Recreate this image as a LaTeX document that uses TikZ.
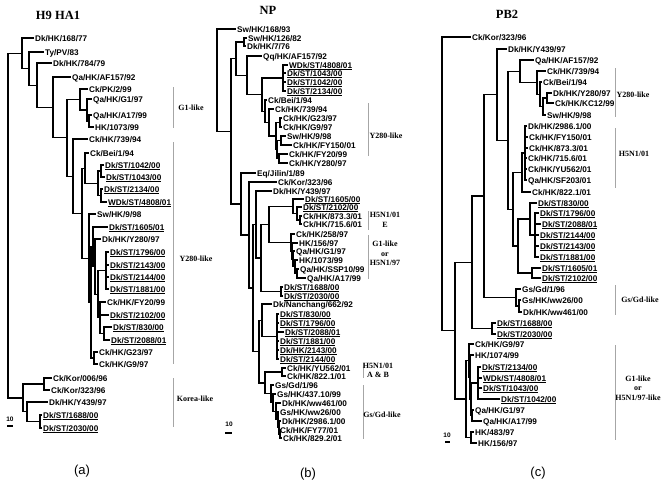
\documentclass[tikz,border=0pt]{standalone}
\usepackage{fontspec}
\setmainfont{Liberation Serif}
\setsansfont{Liberation Sans}
\usepackage{tikz}

\begin{document}
\begin{tikzpicture}[x=1pt,y=-1pt,
  leaf/.style={anchor=west,inner sep=1pt,text height=6pt,text depth=0pt,font=\sffamily\bfseries\fontsize{8.2}{9}\selectfont},
  br/.style={line width=1.2pt},
  bar/.style={draw=gray!70,line width=0.9pt},
  grp/.style={align=center,inner sep=0pt,font=\rmfamily\bfseries\fontsize{8}{9.5}\selectfont},
  ttl/.style={inner sep=0pt,font=\rmfamily\bfseries\fontsize{12.5}{14}\selectfont},
  pnl/.style={inner sep=0pt,font=\sffamily\fontsize{13}{15}\selectfont},
  scl/.style={inner sep=0pt,font=\sffamily\bfseries\fontsize{6.5}{7}\selectfont}]
\useasboundingbox (0,0) rectangle (670,483);

\node[ttl] (ta) at (58,15) {H9 HA1};
\node[ttl] (tb) at (268,10) {NP};
\node[ttl] (tc) at (507,14) {PB2};

\node[leaf] (a01) at (34,38) {Dk/HK/168/77};
\node[leaf] (a02) at (44,52) {Ty/PV/83};
\node[leaf] (a03) at (52,63) {Dk/HK/784/79};
\node[leaf] (a04) at (71,77) {Qa/HK/AF157/92};
\node[leaf] (a05) at (88,89) {Ck/PK/2/99};
\node[leaf] (a06) at (92,99) {Qa/HK/G1/97};
\node[leaf] (a07) at (92,115) {Qa/HK/A17/99};
\node[leaf] (a08) at (94,127) {HK/1073/99};
\node[leaf] (a09) at (88,139) {Ck/HK/739/94};
\node[leaf] (a10) at (89,153) {Ck/Bei/1/94};
\node[leaf] (a11) at (104,165) {\underline{Dk/ST/1042/00}};
\node[leaf] (a12) at (105,177) {\underline{Dk/ST/1043/00}};
\node[leaf] (a13) at (103,189) {\underline{Dk/ST/2134/00}};
\node[leaf] (a14) at (107,202) {\underline{WDk/ST/4808/01}};
\node[leaf] (a15) at (96,214) {Sw/HK/9/98};
\node[leaf] (a16) at (108,227) {\underline{Dk/ST/1605/01}};
\node[leaf] (a17) at (101,239) {Dk/HK/Y280/97};
\node[leaf] (a18) at (109,252) {\underline{Dk/ST/1796/00}};
\node[leaf] (a19) at (109,265) {\underline{Dk/ST/2143/00}};
\node[leaf] (a20) at (109,277) {\underline{Dk/ST/2144/00}};
\node[leaf] (a21) at (109,289) {\underline{Dk/ST/1881/00}};
\node[leaf] (a22) at (106,302) {Ck/HK/FY20/99};
\node[leaf] (a23) at (109,315) {\underline{Dk/ST/2102/00}};
\node[leaf] (a24) at (112,327) {\underline{Dk/ST/830/00}};
\node[leaf] (a25) at (110,340) {\underline{Dk/ST/2088/01}};
\node[leaf] (a26) at (98,352) {Ck/HK/G23/97};
\node[leaf] (a27) at (98,364) {Ck/HK/G9/97};
\node[leaf] (a28) at (52,378) {Ck/Kor/006/96};
\node[leaf] (a29) at (50,390) {Ck/Kor/323/96};
\node[leaf] (a30) at (48,402) {Dk/HK/Y439/97};
\node[leaf] (a31) at (42,415) {\underline{Dk/ST/1688/00}};
\node[leaf] (a32) at (42,428) {\underline{Dk/ST/2030/00}};

\coordinate (ar) at (8,225.6);
\coordinate (aa) at (22,53.3);
\coordinate (ab) at (29,68.6);
\coordinate (ac) at (37,85.2);
\coordinate (ae1) at (53,107.4);
\coordinate (ae2) at (67,137.8);
\coordinate (ag) at (80,99.5);
\coordinate (ah) at (87,110);
\coordinate (ai) at (89,121);
\coordinate (ae3) at (73,176.1);
\coordinate (ae4) at (82,213.2);
\coordinate (aj) at (85,168.1);
\coordinate (aj2) at (98,183.3);
\coordinate (aj3) at (101,171);
\coordinate (aj4) at (101,195.5);
\coordinate (ay) at (89,258.2);
\coordinate (ay2) at (91,302.4);
\coordinate (ay3) at (93,246.8);
\coordinate (ay4) at (95,266.6);
\coordinate (ay5) at (98,294.1);
\coordinate (ay6) at (106,270.5);
\coordinate (ay7) at (100,317.8);
\coordinate (ay8) at (104,333.5);
\coordinate (ay9) at (94,358);
\coordinate (ak) at (23,397.9);
\coordinate (ak1) at (44,384);
\coordinate (ak2) at (27,411.8);
\coordinate (ak3) at (40,421.5);

\draw[br] (ar) |- (aa) (ar) |- (ak);
\draw[br] (aa) |- (a01) (aa) |- (ab);
\draw[br] (ab) |- (a02) (ab) |- (ac);
\draw[br] (ac) |- (a03) (ac) |- (ae1);
\draw[br] (ae1) |- (a04) (ae1) |- (ae2);
\draw[br] (ae2) |- (ag) (ae2) |- (ae3);
\draw[br] (ag) |- (a05) (ag) |- (ah);
\draw[br] (ah) |- (a06) (ah) |- (ai);
\draw[br] (ai) |- (a07) (ai) |- (a08);
\draw[br] (ae3) |- (a09) (ae3) |- (ae4);
\draw[br] (ae4) |- (aj) (ae4) |- (ay);
\draw[br] (aj) |- (a10) (aj) |- (aj2);
\draw[br] (aj2) |- (aj3) (aj2) |- (aj4);
\draw[br] (aj3) |- (a11) (aj3) |- (a12);
\draw[br] (aj4) |- (a13) (aj4) |- (a14);
\draw[br] (ay) |- (a15) (ay) |- (ay2);
\draw[br] (ay2) |- (ay3) (ay2) |- (ay9);
\draw[br] (ay3) |- (a16) (ay3) |- (ay4);
\draw[br] (ay4) |- (a17) (ay4) |- (ay5);
\draw[br] (ay5) |- (ay6) (ay5) |- (ay7);
\draw[br] (ay6) |- (a18) (ay6) |- (a19) (ay6) |- (a20) (ay6) |- (a21);
\draw[br] (ay7) |- (a22) (ay7) |- (a23) (ay7) |- (ay8);
\draw[br] (ay8) |- (a24) (ay8) |- (a25);
\draw[br] (ay9) |- (a26) (ay9) |- (a27);
\draw[br] (ak) |- (ak1) (ak) |- (ak2);
\draw[br] (ak1) |- (a28) (ak1) |- (a29);
\draw[br] (ak2) |- (a30) (ak2) |- (ak3);
\draw[br] (ak3) |- (a31) (ak3) |- (a32);

\coordinate (aG1t) at (173,87);
\coordinate (aG1b) at (173,128);
\coordinate (aYt) at (173,142);
\coordinate (aYb) at (173,364);
\coordinate (aKt) at (173,378);
\coordinate (aKb) at (173,427);
\draw[bar] (aG1t) -- (aG1b);
\draw[bar] (aYt) -- (aYb);
\draw[bar] (aKt) -- (aKb);
\node[grp] (gaG1) at (191,108) {G1-like};
\node[grp] (gaY) at (196,259) {Y280-like};
\node[grp] (gaK) at (195,399) {Korea-like};

\node[leaf] (b01) at (236,29) {Sw/HK/168/93};
\node[leaf] (b02) at (247,38) {Sw/HK/126/82};
\node[leaf] (b03) at (246,46) {Dk/HK/7/76};
\node[leaf] (b04) at (262,56) {Qq/HK/AF157/92};
\node[leaf] (b05) at (288,65) {\underline{WDk/ST/4808/01}};
\node[leaf] (b06) at (286,73) {\underline{Dk/ST/1043/00}};
\node[leaf] (b07) at (286,82) {\underline{Dk/ST/1042/00}};
\node[leaf] (b08) at (286,91) {\underline{Dk/ST/2134/00}};
\node[leaf] (b09) at (267,100) {Ck/Bei/1/94};
\node[leaf] (b10) at (274,109) {Ck/HK/739/94};
\node[leaf] (b11) at (282,118) {Ck/HK/G23/97};
\node[leaf] (b12) at (282,127) {Ck/HK/G9/97};
\node[leaf] (b13) at (286,136) {Sw/HK/9/98};
\node[leaf] (b14) at (292,145) {Ck/HK/FY150/01};
\node[leaf] (b15) at (288,154) {Ck/HK/FY20/99};
\node[leaf] (b16) at (288,163) {Ck/HK/Y280/97};
\node[leaf] (b17) at (256,173) {Eq/Jilin/1/89};
\node[leaf] (b18) at (277,182) {Ck/Kor/323/96};
\node[leaf] (b19) at (272,191) {Dk/HK/Y439/97};
\node[leaf] (b20) at (304,199) {\underline{Dk/ST/1605/00}};
\node[leaf] (b21) at (302,207) {\underline{Dk/ST/2102/00}};
\node[leaf] (b22) at (302,216) {Ck/HK/873.3/01};
\node[leaf] (b23) at (302,224) {Ck/HK/715.6/01};
\node[leaf] (b24) at (295,234) {Ck/HK/258/97};
\node[leaf] (b25) at (298,243) {HK/156/97};
\node[leaf] (b26) at (295,251) {Qa/HK/G1/97};
\node[leaf] (b27) at (298,260) {HK/1073/99};
\node[leaf] (b28) at (299,269) {Qa/HK/SSP10/99};
\node[leaf] (b29) at (306,278) {Qa/HK/A17/99};
\node[leaf] (b30) at (283,287) {\underline{Dk/ST/1688/00}};
\node[leaf] (b31) at (283,296) {\underline{Dk/ST/2030/00}};
\node[leaf] (b32) at (272,304) {Dk/Nanchang/662/92};
\node[leaf] (b33) at (279,314) {\underline{Dk/ST/830/00}};
\node[leaf] (b34) at (279,323) {\underline{Dk/ST/1796/00}};
\node[leaf] (b35) at (284,332) {\underline{Dk/ST/2088/01}};
\node[leaf] (b36) at (279,341) {\underline{Dk/ST/1881/00}};
\node[leaf] (b37) at (279,350) {\underline{Dk/HK/2143/00}};
\node[leaf] (b38) at (279,359) {\underline{Dk/ST/2144/00}};
\node[leaf] (b39) at (286,368) {Ck/HK/YU562/01};
\node[leaf] (b40) at (286,376) {Ck/HK/822.1/01};
\node[leaf] (b41) at (274,385) {Gs/Gd/1/96};
\node[leaf] (b42) at (276,394) {Gs/HK/437.10/99};
\node[leaf] (b43) at (281,403) {Dk/HK/ww461/00};
\node[leaf] (b44) at (279,412) {Gs/HK/ww26/00};
\node[leaf] (b45) at (281,421) {Dk/HK/2986.1/00};
\node[leaf] (b46) at (279,430) {Ck/HK/FY77/01};
\node[leaf] (b47) at (282,438) {Ck/HK/829.2/01};

\coordinate (br) at (217,80.2);
\coordinate (bn1) at (231,131.4);
\coordinate (bn2) at (236,58.7);
\coordinate (bp1) at (244,42);
\coordinate (bp2) at (247,75.3);
\coordinate (bp3) at (262,94.6);
\coordinate (bp4) at (283,78);
\coordinate (bp5) at (265,111.3);
\coordinate (bp6) at (269,122.5);
\coordinate (bp7) at (276,136);
\coordinate (bp8) at (280,122.5);
\coordinate (bp9) at (277,149.5);
\coordinate (bp10) at (281,140.5);
\coordinate (bp11) at (279,158.5);
\coordinate (bu) at (241,204);
\coordinate (bt) at (249,235);
\coordinate (brr) at (253,288);
\coordinate (br2) at (256,224.5);
\coordinate (br1) at (261,258);
\coordinate (bq) at (269,224.4);
\coordinate (bq1) at (293,206.3);
\coordinate (bq2) at (297,213.5);
\coordinate (bq3) at (300,220);
\coordinate (bq4) at (291,242.5);
\coordinate (bq5) at (292,250.9);
\coordinate (bq6) at (293,258.9);
\coordinate (bq7) at (295,266.8);
\coordinate (bq8) at (297,273.5);
\coordinate (bq9) at (281,291.5);
\coordinate (bs) at (259,351.6);
\coordinate (bs1) at (262,320.3);
\coordinate (bs2) at (277,336.5);
\coordinate (bs3) at (265,382.9);
\coordinate (bs4) at (282,372);
\coordinate (bs5) at (271,393.8);
\coordinate (bs6) at (273,402.7);
\coordinate (bs7) at (276,411.4);
\coordinate (bs8) at (278,419.8);
\coordinate (bs9) at (279,427.5);
\coordinate (bs10) at (280,434);

\draw[br] (br) |- (b01) (br) |- (bn1);
\draw[br] (bn1) |- (bn2) (bn1) |- (bu);
\draw[br] (bn2) |- (bp1) (bn2) |- (bp2);
\draw[br] (bp1) |- (b02) (bp1) |- (b03);
\draw[br] (bp2) |- (b04) (bp2) |- (bp3);
\draw[br] (bp3) |- (bp4) (bp3) |- (bp5);
\draw[br] (bp4) |- (b05) (bp4) |- (b06) (bp4) |- (b07) (bp4) |- (b08);
\draw[br] (bp5) |- (b09) (bp5) |- (bp6);
\draw[br] (bp6) |- (b10) (bp6) |- (bp7);
\draw[br] (bp7) |- (bp8) (bp7) |- (bp9);
\draw[br] (bp8) |- (b11) (bp8) |- (b12);
\draw[br] (bp9) |- (bp10) (bp9) |- (bp11);
\draw[br] (bp10) |- (b13) (bp10) |- (b14);
\draw[br] (bp11) |- (b15) (bp11) |- (b16);
\draw[br] (bu) |- (b17) (bu) |- (bt);
\draw[br] (bt) |- (b18) (bt) |- (brr);
\draw[br] (brr) |- (br2) (brr) |- (bs);
\draw[br] (br2) |- (b19) (br2) |- (br1);
\draw[br] (br1) |- (bq) (br1) |- (bq9);
\draw[br] (bq) |- (bq1) (bq) |- (bq4);
\draw[br] (bq1) |- (b20) (bq1) |- (bq2);
\draw[br] (bq2) |- (b21) (bq2) |- (bq3);
\draw[br] (bq3) |- (b22) (bq3) |- (b23);
\draw[br] (bq4) |- (b24) (bq4) |- (bq5);
\draw[br] (bq5) |- (b25) (bq5) |- (bq6);
\draw[br] (bq6) |- (b26) (bq6) |- (bq7);
\draw[br] (bq7) |- (b27) (bq7) |- (bq8);
\draw[br] (bq8) |- (b28) (bq8) |- (b29);
\draw[br] (bq9) |- (b30) (bq9) |- (b31);
\draw[br] (bs) |- (bs1) (bs) |- (bs3);
\draw[br] (bs1) |- (b32) (bs1) |- (bs2);
\draw[br] (bs2) |- (b33) (bs2) |- (b34) (bs2) |- (b35) (bs2) |- (b36) (bs2) |- (b37) (bs2) |- (b38);
\draw[br] (bs3) |- (bs4) (bs3) |- (bs5);
\draw[br] (bs4) |- (b39) (bs4) |- (b40);
\draw[br] (bs5) |- (b41) (bs5) |- (bs6);
\draw[br] (bs6) |- (b42) (bs6) |- (bs7);
\draw[br] (bs7) |- (b43) (bs7) |- (bs8);
\draw[br] (bs8) |- (b44) (bs8) |- (bs9);
\draw[br] (bs9) |- (b45) (bs9) |- (bs10);
\draw[br] (bs10) |- (b46) (bs10) |- (b47);

\coordinate (bYt) at (368,103);
\coordinate (bYb) at (368,156);
\coordinate (bEt) at (368,211);
\coordinate (bEb) at (368,230);
\coordinate (bGt) at (368,235);
\coordinate (bGb) at (368,279);
\coordinate (bABt) at (363,363);
\coordinate (bABb) at (363,378);
\coordinate (bGst) at (363,385);
\coordinate (bGsb) at (363,439);
\draw[bar] (bYt) -- (bYb);
\draw[bar] (bEt) -- (bEb);
\draw[bar] (bGt) -- (bGb);
\draw[bar] (bABt) -- (bABb);
\draw[bar] (bGst) -- (bGsb);
\node[grp] (gbY) at (386,136) {Y280-like};
\node[grp] (gbE) at (385,220) {H5N1/01\\E};
\node[grp] (gbG) at (385,253.5) {G1-like\\or\\H5N1/97};
\node[grp] (gbAB) at (378,370.5) {H5N1/01\\A \& B};
\node[grp] (gbGs) at (382,415) {Gs/Gd-like};

\node[leaf] (c01) at (471,37) {Ck/Kor/323/96};
\node[leaf] (c02) at (507,49) {Dk/HK/Y439/97};
\node[leaf] (c03) at (534,60) {Qa/HK/AF157/92};
\node[leaf] (c04) at (546,71) {Ck/HK/739/94};
\node[leaf] (c05) at (542,82) {Ck/Bei/1/94};
\node[leaf] (c06) at (552,93) {Dk/HK/Y280/97};
\node[leaf] (c07) at (554,103) {Ck/HK/KC12/99};
\node[leaf] (c08) at (546,115) {Sw/HK/9/98};
\node[leaf] (c09) at (527,126) {Dk/HK/2986.1/00};
\node[leaf] (c10) at (528,137) {Ck/HK/FY150/01};
\node[leaf] (c11) at (528,148) {Ck/HK/873.3/01};
\node[leaf] (c12) at (527,158) {Ck/HK/715.6/01};
\node[leaf] (c13) at (527,169) {Ck/HK/YU562/01};
\node[leaf] (c14) at (527,180) {Qa/HK/SF203/01};
\node[leaf] (c15) at (531,192) {Ck/HK/822.1/01};
\node[leaf] (c16) at (537,203) {\underline{Dk/ST/830/00}};
\node[leaf] (c17) at (539,213) {\underline{Dk/ST/1796/00}};
\node[leaf] (c18) at (541,224) {\underline{Dk/ST/2088/01}};
\node[leaf] (c19) at (539,235) {\underline{Dk/ST/2144/00}};
\node[leaf] (c20) at (539,246) {\underline{Dk/ST/2143/00}};
\node[leaf] (c21) at (539,257) {\underline{Dk/ST/1881/00}};
\node[leaf] (c22) at (541,268) {\underline{Dk/ST/1605/01}};
\node[leaf] (c23) at (541,278) {\underline{Dk/ST/2102/00}};
\node[leaf] (c24) at (521,289) {Gs/Gd/1/96};
\node[leaf] (c25) at (521,300) {Gs/HK/ww26/00};
\node[leaf] (c26) at (522,312) {Dk/HK/ww461/00};
\node[leaf] (c27) at (496,323) {\underline{Dk/ST/1688/00}};
\node[leaf] (c28) at (496,334) {\underline{Dk/ST/2030/00}};
\node[leaf] (c29) at (474,344) {Ck/HK/G9/97};
\node[leaf] (c30) at (474,355) {HK/1074/99};
\node[leaf] (c31) at (481,367) {\underline{Dk/ST/2134/00}};
\node[leaf] (c32) at (482,378) {\underline{WDk/ST/4808/01}};
\node[leaf] (c33) at (482,388) {\underline{Dk/ST/1043/00}};
\node[leaf] (c34) at (500,399) {\underline{Dk/ST/1042/00}};
\node[leaf] (c35) at (474,410) {Qa/HK/G1/97};
\node[leaf] (c36) at (482,421) {Qa/HK/A17/99};
\node[leaf] (c37) at (474,432) {HK/483/97};
\node[leaf] (c38) at (477,443) {HK/156/97};

\coordinate (cr) at (442,183.8);
\coordinate (cn1) at (455,330.5);
\coordinate (cn2) at (472,262.3);
\coordinate (cn3) at (484,196);
\coordinate (cn4) at (497,94.6);
\coordinate (cn5) at (508,140.3);
\coordinate (cn6) at (520,71.3);
\coordinate (cn7) at (537,82.6);
\coordinate (cn8) at (540,94.3);
\coordinate (cn9) at (543,106.5);
\coordinate (cn9a) at (547,98);
\coordinate (cn10) at (513,209.3);
\coordinate (cn11) at (522,172.5);
\coordinate (cn12) at (525,153);
\coordinate (cn14) at (518,246);
\coordinate (cn15) at (530,219);
\coordinate (cn15b) at (535,235);
\coordinate (cn16) at (532,273);
\coordinate (cn17) at (516,297.5);
\coordinate (cn18) at (519,306);
\coordinate (cn19) at (492,328.5);
\coordinate (cg) at (466,399);
\coordinate (cg0) at (469,360.6);
\coordinate (cg2) at (470,377.1);
\coordinate (cg3) at (471,399.3);
\coordinate (cg4) at (478,383);
\coordinate (cg5) at (472,415.5);
\coordinate (cg6) at (471,437.5);

\draw[br] (cr) |- (c01) (cr) |- (cn1);
\draw[br] (cn1) |- (cn2) (cn1) |- (cg);
\draw[br] (cn2) |- (cn3) (cn2) |- (cn19);
\draw[br] (cn3) |- (cn4) (cn3) |- (cn17);
\draw[br] (cn4) |- (c02) (cn4) |- (cn5);
\draw[br] (cn5) |- (cn6) (cn5) |- (cn10);
\draw[br] (cn6) |- (c03) (cn6) |- (cn7);
\draw[br] (cn7) |- (c04) (cn7) |- (cn8);
\draw[br] (cn8) |- (c05) (cn8) |- (cn9);
\draw[br] (cn9) |- (cn9a) (cn9) |- (c08);
\draw[br] (cn9a) |- (c06) (cn9a) |- (c07);
\draw[br] (cn10) |- (cn11) (cn10) |- (cn14);
\draw[br] (cn11) |- (cn12) (cn11) |- (c15);
\draw[br] (cn12) |- (c09) (cn12) |- (c10) (cn12) |- (c11) (cn12) |- (c12) (cn12) |- (c13) (cn12) |- (c14);
\draw[br] (cn14) |- (cn15) (cn14) |- (cn16);
\draw[br] (cn15) |- (c16) (cn15) |- (cn15b);
\draw[br] (cn15b) |- (c17) (cn15b) |- (c18) (cn15b) |- (c19) (cn15b) |- (c20) (cn15b) |- (c21);
\draw[br] (cn16) |- (c22) (cn16) |- (c23);
\draw[br] (cn17) |- (c24) (cn17) |- (cn18);
\draw[br] (cn18) |- (c25) (cn18) |- (c26);
\draw[br] (cn19) |- (c27) (cn19) |- (c28);
\draw[br] (cg) |- (cg0) (cg) |- (cg6);
\draw[br] (cg0) |- (c29) (cg0) |- (cg2);
\draw[br] (cg2) |- (c30) (cg2) |- (cg3);
\draw[br] (cg3) |- (cg4) (cg3) |- (cg5);
\draw[br] (cg4) |- (c31) (cg4) |- (c32) (cg4) |- (c33) (cg4) |- (c34);
\draw[br] (cg5) |- (c35) (cg5) |- (c36);
\draw[br] (cg6) |- (c37) (cg6) |- (c38);

\coordinate (cYt) at (615,68);
\coordinate (cYb) at (615,117);
\coordinate (cHt) at (615,128);
\coordinate (cHb) at (615,188);
\coordinate (cGst) at (615,285);
\coordinate (cGsb) at (615,315);
\coordinate (cGt) at (615,345);
\coordinate (cGb) at (615,440);
\draw[bar] (cYt) -- (cYb);
\draw[bar] (cHt) -- (cHb);
\draw[bar] (cGst) -- (cGsb);
\draw[bar] (cGt) -- (cGb);
\node[grp] (gcY) at (633,95) {Y280-like};
\node[grp] (gcH) at (634,154) {H5N1/01};
\node[grp] (gcGs) at (640,300) {Gs/Gd-like};
\node[grp] (gcG) at (638,388) {G1-like\\or\\H5N1/97-like};

\node[scl] (sa) at (10,419) {10};
\coordinate (sal) at (7,426);
\coordinate (sar) at (13,426);
\draw[br] (sal) -- (sar);
\node[scl] (sb) at (229,424) {10};
\coordinate (sbl) at (225,433);
\coordinate (sbr) at (232,433);
\draw[br] (sbl) -- (sbr);
\node[scl] (sc) at (447,435) {10};
\coordinate (scl) at (445,442);
\coordinate (scr) at (450,442);
\draw[br] (scl) -- (scr);

\node[pnl] (pa) at (82,471) {(a)};
\node[pnl] (pb) at (308,474) {(b)};
\node[pnl] (pc) at (538,473) {(c)};
\end{tikzpicture}
\end{document}
